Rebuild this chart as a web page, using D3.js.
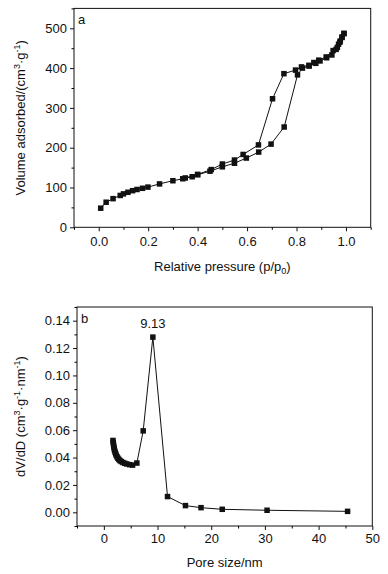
<!DOCTYPE html>
<html>
<head>
<meta charset="utf-8">
<script src="https://cdn.jsdelivr.net/npm/d3@7"></script>
<style>
  body { margin: 0; background: #fff; }
  text { font-family: "Liberation Sans", Arial, sans-serif; fill: #111; }
</style>
</head>
<body>
<div id="chart"></div>
<script>
// panel a: N2 isotherm, [p/p0, volume]
var adsorption = [
  [0.008, 48], [0.03, 63], [0.058, 72], [0.087, 80], [0.1, 84], [0.118, 88],
  [0.137, 92], [0.155, 95], [0.177, 98], [0.199, 101], [0.246, 109], [0.30, 117],
  [0.34, 122], [0.378, 127], [0.40, 132], [0.45, 141], [0.50, 152], [0.549, 161],
  [0.597, 174], [0.647, 189], [0.697, 209], [0.75, 252], [0.804, 383], [0.824, 400],
  [0.851, 405], [0.878, 412], [0.895, 418], [0.922, 426], [0.943, 433], [0.96, 447],
  [0.97, 460], [0.977, 468], [0.984, 477], [0.992, 487]
];
var desorption = [
  [0.992, 487], [0.984, 478], [0.975, 465], [0.965, 452], [0.948, 444], [0.92, 428],
  [0.89, 420], [0.87, 414], [0.85, 407], [0.82, 403], [0.796, 395], [0.749, 386],
  [0.703, 323], [0.646, 207], [0.584, 183], [0.549, 169], [0.50, 159], [0.455, 145],
  [0.40, 133], [0.35, 124]
];
// panel b: pore size distribution, [pore size nm, dV/dD]
var poreSize = [
  [1.7, 0.0525], [1.75, 0.051], [1.8, 0.0495], [1.86, 0.048], [1.93, 0.0465],
  [2.0, 0.0452], [2.1, 0.044], [2.2, 0.0428], [2.32, 0.0416], [2.46, 0.0405],
  [2.62, 0.0395], [2.8, 0.0386], [3.0, 0.0378], [3.25, 0.0371], [3.55, 0.0364],
  [3.9, 0.0358], [4.3, 0.0353], [4.8, 0.0348], [5.35, 0.0345], [6.15, 0.036],
  [7.33, 0.0595], [9.13, 0.128], [11.86, 0.0115], [15.2, 0.0049], [18.1, 0.0034],
  [22.05, 0.0022], [30.4, 0.0015], [45.4, 0.0007]
];
var peakLabel = {x: 9.13, y: 0.128, text: "9.13"};

var xTicksA = [0, 0.2, 0.4, 0.6, 0.8, 1.0];
var xMinorA = [-0.1, 0.1, 0.3, 0.5, 0.7, 0.9, 1.1];
var yTicksA = [0, 100, 200, 300, 400, 500];
var yMinorA = [50, 150, 250, 350, 450, 550];
var xTicksB = [0, 10, 20, 30, 40, 50];
var xMinorB = [-5, 5, 15, 25, 35, 45];
var yTicksB = [0, 0.02, 0.04, 0.06, 0.08, 0.10, 0.12, 0.14];
var yMinorB = [-0.01, 0.01, 0.03, 0.05, 0.07, 0.09, 0.11, 0.13, 0.15];

var svg = d3.select("#chart").append("svg")
    .attr("width", 388)
    .attr("height", 574);

svg.append("rect").attr("width", 388).attr("height", 574).attr("fill", "#fff");

function panel(opt) {
  var x = d3.scaleLinear().domain(opt.xDomain).range([opt.left, opt.right]);
  var y = d3.scaleLinear().domain(opt.yDomain).range([opt.bottom, opt.top]);

  // frame
  svg.append("rect")
      .attr("x", opt.left).attr("y", opt.top)
      .attr("width", opt.right - opt.left).attr("height", opt.bottom - opt.top)
      .attr("fill", "none").attr("stroke", "#111").attr("stroke-width", 1);

  // minor ticks
  svg.append("g")
      .attr("transform", "translate(0," + opt.bottom + ")")
      .call(d3.axisBottom(x).tickValues(opt.xMinor).tickSize(2.5).tickFormat(""))
      .call(function (g) { g.select(".domain").remove(); });
  svg.append("g")
      .attr("transform", "translate(" + opt.left + ",0)")
      .call(d3.axisLeft(y).tickValues(opt.yMinor).tickSize(2.5).tickFormat(""))
      .call(function (g) { g.select(".domain").remove(); });

  // major ticks
  var xa = svg.append("g")
      .attr("transform", "translate(0," + opt.bottom + ")")
      .call(d3.axisBottom(x).tickValues(opt.xTicks).tickSize(4).tickPadding(opt.xPad).tickFormat(d3.format(opt.xFormat)));
  var ya = svg.append("g")
      .attr("transform", "translate(" + opt.left + ",0)")
      .call(d3.axisLeft(y).tickValues(opt.yTicks).tickSize(4).tickPadding(opt.yPad).tickFormat(d3.format(opt.yFormat)));
  [xa, ya].forEach(function (g) {
    g.select(".domain").remove();
    g.selectAll("line").attr("stroke", "#111");
    g.selectAll("text").attr("font-size", 13).attr("fill", "#111")
        .attr("font-family", "'Liberation Sans', Arial, sans-serif");
  });

  var line = d3.line()
      .x(function (d) { return x(d[0]); })
      .y(function (d) { return y(d[1]); });

  opt.series.forEach(function (s) {
    svg.append("path")
        .attr("d", line(s))
        .attr("fill", "none")
        .attr("stroke", "#111")
        .attr("stroke-width", 1);
    svg.append("g").selectAll("rect")
        .data(s)
        .enter()
        .append("rect")
        .attr("x", function (d) { return x(d[0]) - 2.75; })
        .attr("y", function (d) { return y(d[1]) - 2.75; })
        .attr("width", 5.5)
        .attr("height", 5.5)
        .attr("fill", "#111");
  });

  // panel letter
  svg.append("text")
      .attr("x", opt.left + 4)
      .attr("y", opt.top + 16)
      .attr("font-size", 13)
      .text(opt.letter);

  return {x: x, y: y};
}

var a = panel({
  left: 74, right: 370.7, top: 8.4, bottom: 227.3,
  xDomain: [-0.1, 1.1], yDomain: [0, 550],
  xTicks: xTicksA, xMinor: xMinorA, yTicks: yTicksA, yMinor: yMinorA,
  xFormat: ".1f", yFormat: "d", xPad: 5, yPad: 3,
  series: [adsorption, desorption], letter: "a"
});

var b = panel({
  left: 77, right: 372.3, top: 307, bottom: 526,
  xDomain: [-5, 50], yDomain: [-0.01, 0.15],
  xTicks: xTicksB, xMinor: xMinorB, yTicks: yTicksB, yMinor: yMinorB,
  xFormat: "d", yFormat: ".2f", xPad: 4, yPad: 3,
  series: [poreSize], letter: "b"
});

// peak annotation
svg.append("text")
    .attr("x", b.x(peakLabel.x))
    .attr("y", b.y(peakLabel.y) - 9)
    .attr("text-anchor", "middle")
    .attr("font-size", 13)
    .text(peakLabel.text);

// axis titles
var tA = svg.append("text")
    .attr("x", (74 + 370.7) / 2)
    .attr("y", 271)
    .attr("text-anchor", "middle")
    .attr("font-size", 13);
tA.append("tspan").text("Relative pressure (p/p");
tA.append("tspan").attr("dy", 3).attr("font-size", 9).text("0");
tA.append("tspan").attr("dy", -3).text(")");

var yA = svg.append("text")
    .attr("transform", "translate(25," + (8.4 + 227.3) / 2 + ") rotate(-90)")
    .attr("text-anchor", "middle")
    .attr("font-size", 13);
yA.append("tspan").text("Volume adsorbed/(cm");
yA.append("tspan").attr("dy", -5).attr("font-size", 9).text("3");
yA.append("tspan").attr("dy", 5).text("\u00b7g");
yA.append("tspan").attr("dy", -5).attr("font-size", 9).text("-1");
yA.append("tspan").attr("dy", 5).text(")");

svg.append("text")
    .attr("x", (77 + 372.3) / 2)
    .attr("y", 567)
    .attr("text-anchor", "middle")
    .attr("font-size", 13)
    .text("Pore size/nm");

var yB = svg.append("text")
    .attr("transform", "translate(25," + (307 + 526) / 2 + ") rotate(-90)")
    .attr("text-anchor", "middle")
    .attr("font-size", 13);
yB.append("tspan").text("dV/dD (cm");
yB.append("tspan").attr("dy", -5).attr("font-size", 9).text("3");
yB.append("tspan").attr("dy", 5).text("\u00b7g");
yB.append("tspan").attr("dy", -5).attr("font-size", 9).text("-1");
yB.append("tspan").attr("dy", 5).text("\u00b7nm");
yB.append("tspan").attr("dy", -5).attr("font-size", 9).text("-1");
yB.append("tspan").attr("dy", 5).text(")");
</script>
</body>
</html>
